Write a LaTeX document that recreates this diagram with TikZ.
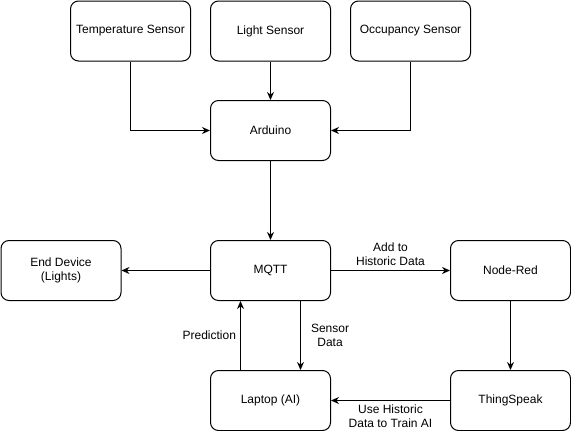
\documentclass[tikz,border=0pt]{standalone}
\usepackage{fontspec}
\setmainfont{Liberation Sans}
\usetikzlibrary{arrows.meta}
\begin{document}
\begin{tikzpicture}[x=1pt,y=-1pt,
  box/.style={draw=black,line width=1pt,rounded corners=8pt,minimum width=120pt,minimum height=60pt,inner sep=0pt,align=center,font=\fontsize{12}{14}\selectfont,anchor=north west},
  conn/.style={draw=black,line width=1pt,-{Stealth[length=8pt,width=7pt]}},
  lbl/.style={font=\fontsize{12}{14}\selectfont,align=center,inner sep=0pt}]
\useasboundingbox (0,0) rectangle (571,431);
\node[box] (temp) at (70,0.5) {Temperature Sensor};
\node[box] (light) at (210,0.5) {Light Sensor};
\node[box] (occ) at (350,0.5) {Occupancy Sensor};
\node[box] (ard) at (210,100) {Arduino};
\node[box] (end) at (0.5,240) {End Device\\(Lights)};
\node[box] (mqtt) at (210,240) {MQTT};
\node[box] (nr) at (450,240) {Node-Red};
\node[box] (lap) at (210,370) {Laptop (AI)};
\node[box] (ts) at (450,370) {ThingSpeak};
\draw[conn] (temp.south) |- (ard.west);
\draw[conn] (light.south) -- (ard.north);
\draw[conn] (occ.south) |- (ard.east);
\draw[conn] (ard.south) -- (mqtt.north);
\draw[conn] (mqtt.west) -- (end.east);
\draw[conn] (mqtt.east) -- node[lbl,above=4pt] {Add to\\Historic Data} (nr.west);
\draw[conn] (nr.south) -- (ts.north);
\draw[conn] (ts.west) -- node[lbl,below=4pt] {Use Historic\\Data to Train AI} (lap.east);
\coordinate (mq1) at ([xshift=30pt]mqtt.south);
\coordinate (lp1) at ([xshift=30pt]lap.north);
\draw[conn] (mq1) -- node[lbl,right=10pt] {Sensor\\Data} (lp1);
\coordinate (lp2) at ([xshift=-30pt]lap.north);
\coordinate (mq2) at ([xshift=-30pt]mqtt.south);
\draw[conn] (lp2) -- node[lbl,left=4pt] {Prediction} (mq2);
\end{tikzpicture}
\end{document}
